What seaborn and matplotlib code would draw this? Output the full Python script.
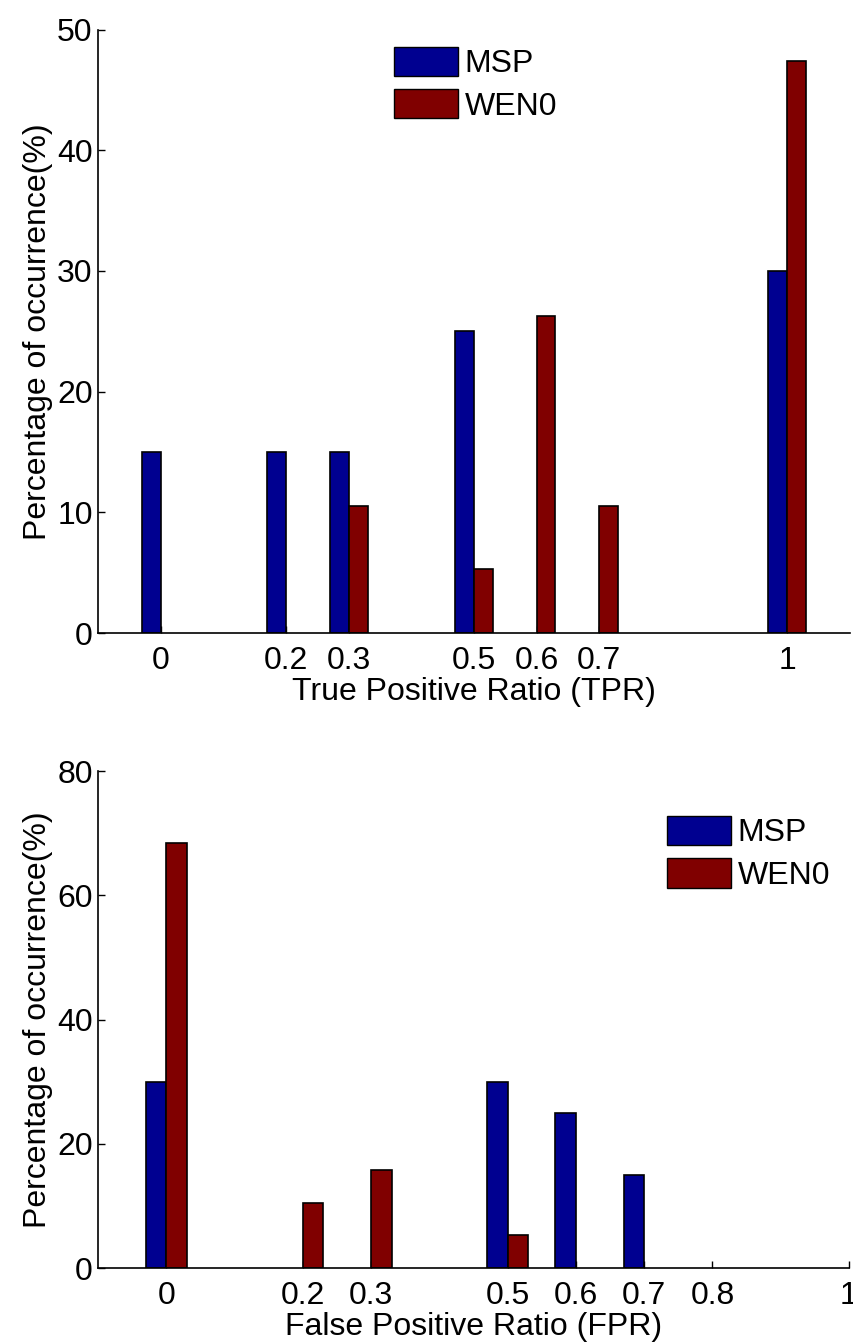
import pandas as pd
import matplotlib
matplotlib.use("Agg")
import matplotlib.pyplot as plt
import seaborn as sns
from matplotlib.patches import Patch

# TPR histogram (top panel)
tpr_bins = [0, 0.2, 0.3, 0.5, 0.6, 0.7, 1]
tpr_msp = [15, 15, 15, 25, 0, 0, 30]
tpr_wen0 = [0, 0, 10.5, 5.3, 26.3, 10.5, 47.4]
tpr_ticks = [0, 0.2, 0.3, 0.5, 0.6, 0.7, 1]
tpr_tick_labels = ["0", "0.2", "0.3", "0.5", "0.6", "0.7", "1"]

# FPR histogram (bottom panel)
fpr_bins = [0, 0.2, 0.3, 0.5, 0.6, 0.7]
fpr_msp = [30, 0, 0, 30, 25, 15]
fpr_wen0 = [68.4, 10.5, 15.8, 5.3, 0, 0]
fpr_ticks = [0, 0.2, 0.3, 0.5, 0.6, 0.7, 0.8, 1]
fpr_tick_labels = ["0", "0.2", "0.3", "0.5", "0.6", "0.7", "0.8", "1"]

series_names = ["MSP", "WEN0"]
colors = ["#000090", "#800000"]


def long_frame(bins, msp, wen0):
    df = pd.DataFrame({"ratio": bins * 2,
                       "method": ["MSP"] * len(bins) + ["WEN0"] * len(bins),
                       "pct": list(msp) + list(wen0)})
    # empty bins are just not drawn
    return df[df["pct"] > 0]


sns.set_style("ticks")
plt.rcParams["font.family"] = ["Liberation Sans", "DejaVu Sans"]
plt.rcParams["font.size"] = 23
plt.rcParams["text.color"] = "black"
plt.rcParams["axes.labelcolor"] = "black"
plt.rcParams["xtick.color"] = "black"
plt.rcParams["ytick.color"] = "black"

fig = plt.figure(figsize=(8.54, 13.44), dpi=100)
ax1 = fig.add_axes([0.115, 0.529, 0.88, 0.449])
ax2 = fig.add_axes([0.115, 0.0565, 0.879, 0.3697])

panels = [
    (ax1, long_frame(tpr_bins, tpr_msp, tpr_wen0), tpr_ticks, tpr_tick_labels,
     (-0.1, 1.1), (0, 50), range(0, 51, 10), "True Positive Ratio (TPR)",
     (0.377, 0.993)),
    (ax2, long_frame(fpr_bins, fpr_msp, fpr_wen0), fpr_ticks, fpr_tick_labels,
     (-0.1, 1.0), (0, 80), range(0, 81, 20), "False Positive Ratio (FPR)",
     (0.741, 0.936)),
]

for ax, df, ticks, labels, xlim, ylim, yticks, xlabel, leg_pos in panels:
    sns.barplot(data=df, x="ratio", y="pct", hue="method", hue_order=series_names,
                palette=colors, saturation=1, native_scale=True, width=0.6,
                dodge=True, edgecolor="black", linewidth=1.2, errorbar=None,
                legend=False, ax=ax)
    ax.set_axisbelow(True)
    ax.set_xlim(*xlim)
    ax.set_ylim(*ylim)
    ax.set_xticks(ticks)
    ax.set_xticklabels(labels)
    ax.set_yticks(list(yticks))
    ax.tick_params(direction="in", length=5, width=1, labelsize=23)
    ax.tick_params(axis="x", pad=9)
    ax.tick_params(axis="y", pad=4)
    sns.despine(ax=ax)
    for s in ["left", "bottom"]:
        ax.spines[s].set_linewidth(1.2)
        ax.spines[s].set_color("black")
    ax.set_xlabel(xlabel, fontsize=23, labelpad=1)
    ax.set_ylabel("Percentage of occurrence(%)", fontsize=23, labelpad=3)
    handles = [Patch(facecolor=c, edgecolor="black", linewidth=1) for c in colors]
    ax.legend(handles, series_names, loc="upper left", bbox_to_anchor=leg_pos,
              frameon=False, fontsize=23, handlelength=2.0, handleheight=1.05,
              handletextpad=0.2, labelspacing=0.3, borderaxespad=0)

fig.savefig("out.png", dpi=100)
